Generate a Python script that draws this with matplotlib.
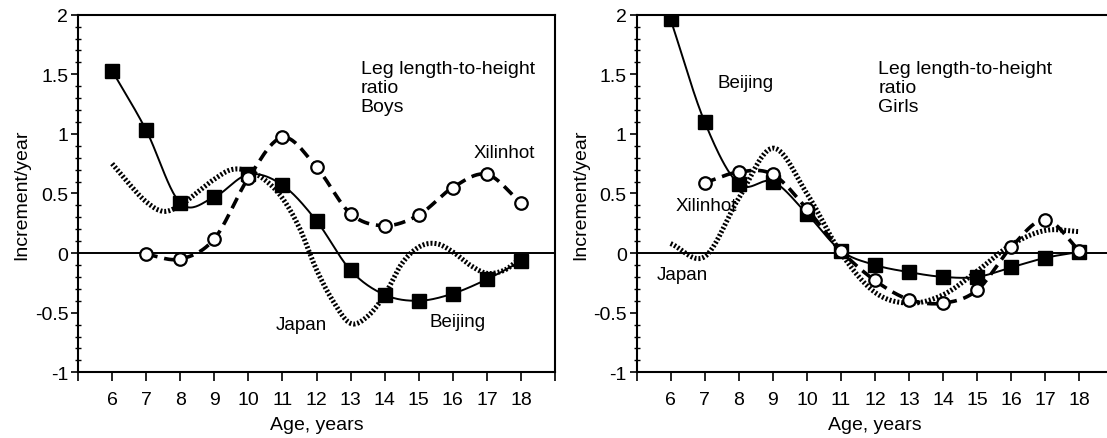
import numpy as np
import matplotlib
matplotlib.use("Agg")
import matplotlib.pyplot as plt
from matplotlib.ticker import MultipleLocator, FixedLocator

plt.rcParams['font.family'] = ['Liberation Sans', 'DejaVu Sans']

# ---- data -------------------------------------------------------------
ages_full = [6, 7, 8, 9, 10, 11, 12, 13, 14, 15, 16, 17, 18]
ages_xil = [7, 8, 9, 10, 11, 12, 13, 14, 15, 16, 17, 18]

boys_beijing = [1.53, 1.03, 0.42, 0.47, 0.66, 0.57, 0.27, -0.145, -0.35, -0.40, -0.34, -0.22, -0.07]
boys_xilinhot = [-0.01, -0.05, 0.12, 0.63, 0.97, 0.72, 0.33, 0.23, 0.32, 0.55, 0.66, 0.42]
boys_japan_ages = [6, 6.5, 7, 7.5, 8, 8.5, 9, 9.5, 10, 10.5, 11, 11.5, 12,
                   12.5, 13, 13.5, 14, 14.5, 15, 15.5, 16, 16.5, 17, 17.5, 17.85]
boys_japan = [0.75, 0.58, 0.43, 0.35, 0.40, 0.51, 0.62, 0.70, 0.69, 0.61, 0.46, 0.21, -0.14,
              -0.41, -0.59, -0.53, -0.35, -0.09, 0.05, 0.08, 0.01, -0.10, -0.17, -0.145, -0.075]

girls_beijing = [1.96, 1.10, 0.58, 0.60, 0.33, 0.02, -0.10, -0.16, -0.20, -0.20, -0.12, -0.04, 0.01]
girls_xilinhot = [0.59, 0.68, 0.66, 0.37, 0.02, -0.23, -0.39, -0.42, -0.31, 0.05, 0.28, 0.02]
girls_japan_ages = [6, 7, 8, 9, 10, 11, 12, 13, 14, 15, 16, 17, 18]
girls_japan = [0.08, -0.03, 0.46, 0.88, 0.50, 0.0, -0.33, -0.42, -0.35, -0.15, 0.07, 0.19, 0.18]

y_ticks = [-1, -0.5, 0, 0.5, 1, 1.5, 2]
y_tick_labels = ["-1", "-0.5", "0", "0.5", "1", "1.5", "2"]
x_ticks = list(range(5, 20))
x_tick_labels = ["" if t in (5, 19) else str(t) for t in x_ticks]


def smooth(xs, ys, n=24):
    """Catmull-Rom curve through the given points (for drawing only)."""
    x = np.asarray(xs, float)
    y = np.asarray(ys, float)
    px = np.concatenate([[2 * x[0] - x[1]], x, [2 * x[-1] - x[-2]]])
    py = np.concatenate([[2 * y[0] - y[1]], y, [2 * y[-1] - y[-2]]])
    outx, outy = [], []
    t = np.linspace(0, 1, n, endpoint=False)
    for i in range(1, len(px) - 2):
        for p, out in ((px, outx), (py, outy)):
            p0, p1, p2, p3 = p[i - 1], p[i], p[i + 1], p[i + 2]
            out.extend(0.5 * ((2 * p1) + (-p0 + p2) * t
                              + (2 * p0 - 5 * p1 + 4 * p2 - p3) * t ** 2
                              + (-p0 + 3 * p1 - 3 * p2 + p3) * t ** 3))
    outx.append(x[-1])
    outy.append(y[-1])
    return np.array(outx), np.array(outy)


def draw_panel(ax, beijing, xil, jap_x, jap_y, title, labels):
    jx, jy = smooth(jap_x, jap_y)
    ax.plot(jx, jy, color="black", lw=3.6, dashes=(0.4, 0.4),
            solid_capstyle="butt", dash_capstyle="butt", zorder=2)
    bx, by = smooth(ages_full, beijing)
    ax.plot(bx, by, color="black", lw=1.4, zorder=3)
    ax.plot(ages_full, beijing, ls="none", marker="s", ms=9.5,
            mfc="black", mec="black", zorder=4)
    xx, xy = smooth(ages_xil, xil)
    ax.plot(xx, xy, color="black", lw=2.6, dashes=(3.2, 1.9), zorder=5)
    ax.plot(ages_xil, xil, ls="none", marker="o", ms=9,
            mfc="white", mec="black", mew=1.6, zorder=6)

    ax.axhline(0, color="black", lw=1.4, zorder=1)
    ax.set_xlim(5, 19)
    ax.set_ylim(-1, 2)
    ax.xaxis.set_major_locator(FixedLocator(x_ticks))
    ax.set_xticklabels(x_tick_labels)
    ax.set_yticks(y_ticks)
    ax.set_yticklabels(y_tick_labels)
    ax.yaxis.set_minor_locator(MultipleLocator(0.1))
    ax.tick_params(axis="x", which="major", direction="out", length=6.5,
                   width=1.2, labelsize=14, pad=7)
    ax.tick_params(axis="y", which="major", direction="out", length=5,
                   width=1.2, labelsize=14, pad=2)
    ax.tick_params(axis="y", which="minor", direction="inout", length=4,
                   width=1.0)
    for s in ax.spines.values():
        s.set_linewidth(1.5)
    ax.set_xlabel("Age, years", fontsize=14, labelpad=6)
    ax.set_ylabel("Increment/year", fontsize=14)
    ax.yaxis.set_label_coords(-0.10, 0.5)

    ax.text(title[0], title[1], title[2], fontsize=14, ha="left", va="top",
            linespacing=1.15)
    for txt, x, y in labels:
        ax.text(x, y, txt, fontsize=13.5, ha="center", va="center")


fig = plt.figure(figsize=(11.07, 4.39), dpi=100)
ax1 = fig.add_axes([0.0705, 0.1497, 0.4309, 0.8146])
ax2 = fig.add_axes([0.5750, 0.1497, 0.4309, 0.8146])

draw_panel(ax1, boys_beijing, boys_xilinhot, boys_japan_ages, boys_japan,
           (13.3, 1.62, "Leg length-to-height\nratio\nBoys"),
           [("Xilinhot", 17.5, 0.84), ("Japan", 11.55, -0.60),
            ("Beijing", 16.15, -0.57)])
draw_panel(ax2, girls_beijing, girls_xilinhot, girls_japan_ages, girls_japan,
           (12.1, 1.62, "Leg length-to-height\nratio\nGirls"),
           [("Beijing", 8.2, 1.43), ("Xilinhot", 7.05, 0.40),
            ("Japan", 6.35, -0.18)])

fig.savefig("out.png", dpi=100)
